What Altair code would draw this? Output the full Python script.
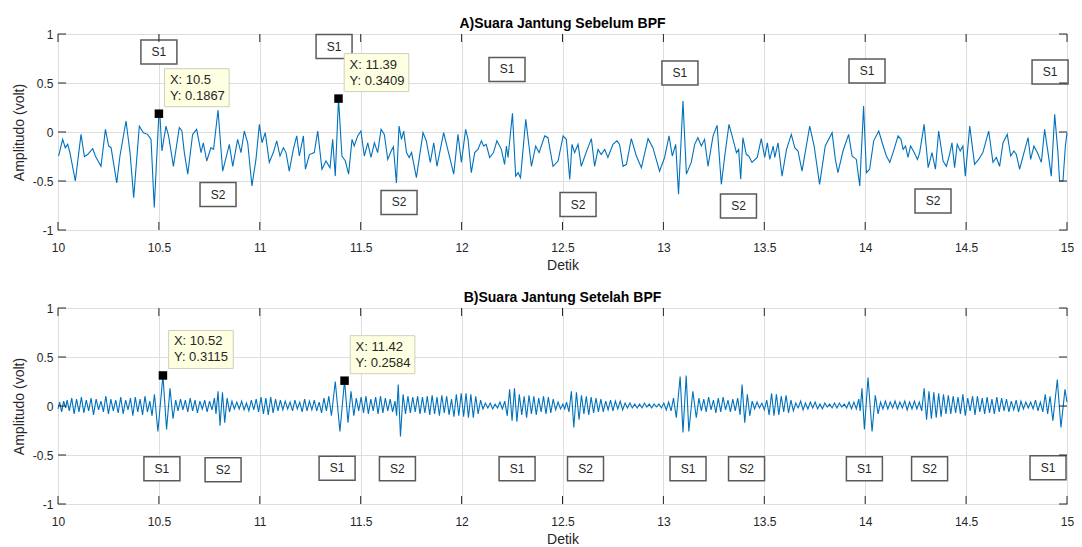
import altair as alt
import pandas as pd

# ---------------- data ----------------
top_t = [10.003,10.023,10.036,10.048,10.059,10.086,10.114,10.131,10.147,10.172,
         10.185,10.213,10.235,10.251,10.263,10.291,10.307,10.337,10.357,10.375,
         10.403,10.423,10.444,10.461,10.477,10.500,10.505,10.515,10.535,10.548,
         10.572,10.601,10.614,10.626,10.643,10.667,10.687,10.709,10.720,10.737,
         10.758,10.771,10.793,10.816,10.833,10.849,10.866,10.890,10.907,10.923,
         10.940,10.961,10.981,10.998,11.011,11.027,11.047,11.067,11.084,11.100,
         11.117,11.130,11.146,11.166,11.183,11.196,11.216,11.226,11.246,11.270,
         11.287,11.308,11.328,11.348,11.361,11.374,11.390,11.407,11.424,11.440,
         11.457,11.468,11.485,11.501,11.518,11.535,11.551,11.568,11.584,11.601,
         11.617,11.634,11.650,11.662,11.677,11.690,11.702,11.713,11.727,11.740,
         11.752,11.776,11.809,11.825,11.845,11.862,11.878,11.911,11.941,11.961,
         11.982,11.999,12.020,12.032,12.048,12.065,12.081,12.098,12.109,12.122,
         12.139,12.158,12.175,12.197,12.213,12.222,12.230,12.252,12.268,12.280,
         12.292,12.318,12.334,12.346,12.367,12.384,12.412,12.428,12.453,12.478,
         12.503,12.519,12.536,12.547,12.560,12.577,12.593,12.617,12.643,12.659,
         12.676,12.692,12.709,12.725,12.750,12.770,12.783,12.800,12.817,12.841,
         12.866,12.891,12.924,12.948,12.981,13.006,13.028,13.044,13.061,13.075,
         13.097,13.114,13.138,13.155,13.171,13.188,13.204,13.221,13.246,13.266,
         13.287,13.304,13.325,13.345,13.362,13.373,13.383,13.394,13.411,13.423,
         13.439,13.465,13.485,13.502,13.515,13.527,13.544,13.552,13.568,13.588,
         13.610,13.634,13.651,13.667,13.687,13.725,13.747,13.774,13.802,13.836,
         13.852,13.865,13.890,13.918,13.935,13.956,13.973,13.992,14.006,14.022,
         14.042,14.067,14.089,14.105,14.122,14.143,14.163,14.177,14.188,14.200,
         14.212,14.225,14.243,14.259,14.270,14.292,14.312,14.331,14.348,14.364,
         14.386,14.402,14.418,14.430,14.443,14.456,14.471,14.484,14.496,14.518,
         14.542,14.562,14.583,14.612,14.633,14.650,14.666,14.683,14.704,14.721,
         14.737,14.749,14.765,14.787,14.807,14.820,14.836,14.853,14.873,14.889,
         14.906,14.922,14.939,14.955,14.963,14.980,14.992,15.000]
top_v = [-0.245,-0.075,-0.16,-0.126,-0.21,-0.50,-0.024,-0.25,-0.23,-0.17,
         -0.245,-0.35,0.027,-0.143,-0.16,-0.52,-0.245,0.112,-0.21,-0.67,
         0.06,-0.007,-0.024,-0.075,-0.77,0.187,0.17,-0.194,0.06,-0.04,
         -0.35,0.044,0.01,-0.21,-0.43,-0.024,0.027,-0.21,-0.11,-0.296,
         -0.16,-0.177,0.224,-0.40,-0.26,-0.126,-0.35,-0.075,-0.21,0.01,
         -0.11,-0.55,-0.28,0.078,-0.11,-0.007,-0.31,-0.21,-0.09,-0.245,
         -0.16,-0.21,-0.40,-0.177,-0.04,-0.245,-0.04,-0.38,-0.23,-0.21,
         0.01,-0.38,-0.296,-0.364,-0.075,-0.45,0.341,-0.245,-0.296,-0.43,
         -0.075,-0.143,-0.04,0.01,-0.245,-0.11,-0.26,-0.11,-0.21,0.027,
         -0.024,-0.28,-0.20,-0.15,-0.52,0.06,-0.075,0.01,-0.21,-0.26,
         -0.21,-0.466,-0.007,-0.09,-0.31,-0.11,-0.35,-0.007,-0.26,-0.43,
         -0.024,-0.31,0.027,-0.075,-0.415,-0.21,-0.177,-0.09,-0.143,-0.126,
         -0.26,-0.21,-0.09,-0.177,-0.33,-0.143,-0.26,0.19,-0.45,-0.415,
         -0.466,0.13,-0.143,-0.35,-0.143,-0.21,-0.04,-0.058,-0.35,-0.296,
         -0.04,-0.075,-0.483,-0.126,-0.21,-0.126,-0.35,-0.21,-0.068,-0.35,
         -0.177,-0.23,-0.177,-0.26,-0.126,-0.09,-0.126,-0.35,-0.33,-0.068,
         -0.245,-0.364,-0.068,-0.16,-0.40,-0.26,-0.04,-0.245,-0.126,-0.636,
         0.316,-0.43,-0.31,-0.126,-0.058,-0.143,-0.075,-0.35,-0.04,0.068,
         -0.534,-0.245,0.078,-0.075,-0.21,-0.177,-0.483,-0.058,-0.23,-0.245,
         -0.31,-0.26,-0.068,-0.26,-0.11,-0.28,-0.143,-0.26,-0.11,-0.45,
         -0.177,-0.024,-0.16,-0.194,-0.40,0.06,-0.143,-0.534,-0.143,-0.007,
         -0.28,-0.415,-0.194,-0.024,-0.245,-0.28,-0.55,0.265,-0.415,-0.38,
         -0.09,0.01,-0.143,-0.245,-0.31,-0.177,-0.04,-0.075,-0.177,-0.143,
         -0.26,-0.143,-0.21,-0.28,-0.21,0.078,-0.364,-0.21,-0.38,0.01,
         -0.296,-0.35,-0.23,-0.11,-0.364,-0.126,-0.194,-0.143,-0.45,0.06,
         -0.33,-0.28,-0.21,0.01,-0.31,-0.26,-0.35,-0.11,-0.024,-0.245,
         -0.194,-0.23,-0.38,-0.21,-0.058,-0.28,-0.143,-0.21,-0.31,0.027,
         -0.21,-0.45,0.18,-0.21,-0.50,-0.50,-0.143,-0.007]

bot_t = [10.000,10.008,10.018,10.028,10.038,10.045,10.056,10.068,10.080,10.092,
         10.104,10.116,10.128,10.140,10.152,10.164,10.176,10.189,10.201,10.213,
         10.225,10.237,10.250,10.262,10.274,10.286,10.298,10.311,10.323,10.335,
         10.347,10.359,10.371,10.383,10.395,10.407,10.419,10.431,10.443,10.455,
         10.466,10.478,10.495,10.520,10.538,10.555,10.570,10.583,10.595,10.607,
         10.619,10.631,10.643,10.655,10.667,10.679,10.691,10.703,10.715,10.727,
         10.739,10.751,10.763,10.775,10.783,10.793,10.803,10.815,10.826,10.838,
         10.850,10.862,10.874,10.886,10.898,10.910,10.922,10.934,10.946,10.958,
         10.970,10.982,10.994,11.006,11.018,11.030,11.042,11.054,11.066,11.078,
         11.090,11.102,11.114,11.126,11.138,11.150,11.162,11.174,11.186,11.198,
         11.210,11.222,11.234,11.246,11.258,11.270,11.282,11.294,11.306,11.318,
         11.330,11.342,11.355,11.374,11.397,11.420,11.437,11.452,11.466,11.478,
         11.490,11.502,11.514,11.526,11.538,11.550,11.562,11.574,11.586,11.598,
         11.610,11.622,11.634,11.646,11.658,11.670,11.678,11.686,11.697,11.710,
         11.722,11.734,11.746,11.758,11.770,11.782,11.794,11.806,11.818,11.830,
         11.842,11.854,11.866,11.878,11.890,11.902,11.914,11.926,11.938,11.950,
         11.962,11.974,11.986,11.998,12.010,12.022,12.034,12.046,12.058,12.070,
         12.082,12.094,12.106,12.118,12.130,12.142,12.154,12.166,12.178,12.190,
         12.202,12.214,12.226,12.238,12.250,12.262,12.274,12.286,12.298,12.310,
         12.322,12.334,12.346,12.358,12.370,12.382,12.394,12.406,12.418,12.430,
         12.442,12.454,12.466,12.478,12.490,12.502,12.511,12.520,12.532,12.544,
         12.556,12.569,12.582,12.594,12.606,12.618,12.630,12.642,12.654,12.666,
         12.678,12.690,12.702,12.714,12.726,12.738,12.750,12.762,12.774,12.786,
         12.798,12.810,12.822,12.834,12.846,12.858,12.870,12.882,12.894,12.906,
         12.918,12.930,12.942,12.954,12.966,12.978,12.990,13.002,13.014,13.026,
         13.038,13.050,13.064,13.083,13.097,13.113,13.126,13.146,13.163,13.176,
         13.188,13.200,13.212,13.224,13.236,13.248,13.260,13.272,13.284,13.296,
         13.308,13.320,13.332,13.344,13.356,13.368,13.380,13.390,13.403,13.416,
         13.428,13.440,13.452,13.464,13.476,13.488,13.500,13.512,13.524,13.536,
         13.548,13.560,13.572,13.584,13.596,13.608,13.620,13.632,13.644,13.656,
         13.668,13.680,13.692,13.704,13.716,13.728,13.740,13.752,13.764,13.776,
         13.788,13.800,13.812,13.824,13.836,13.848,13.860,13.872,13.884,13.896,
         13.908,13.920,13.932,13.944,13.956,13.968,13.975,13.984,13.996,14.014,
         14.034,14.050,14.064,14.076,14.088,14.100,14.112,14.124,14.136,14.148,
         14.160,14.172,14.184,14.196,14.208,14.220,14.232,14.244,14.256,14.268,
         14.280,14.292,14.304,14.316,14.328,14.340,14.352,14.364,14.376,14.388,
         14.400,14.412,14.424,14.436,14.448,14.460,14.472,14.484,14.496,14.508,
         14.520,14.532,14.544,14.556,14.568,14.580,14.592,14.604,14.616,14.628,
         14.640,14.652,14.664,14.676,14.688,14.700,14.712,14.724,14.736,14.748,
         14.760,14.772,14.784,14.796,14.808,14.820,14.832,14.844,14.856,14.868,
         14.880,14.892,14.904,14.916,14.930,14.952,14.970,14.990,15.000]
bot_v = [-0.03,0.04,-0.06,0.05,-0.02,0.06,-0.05,0.08,-0.08,0.07,
         -0.06,0.09,-0.07,0.06,-0.05,0.08,-0.09,0.07,-0.04,0.05,
         -0.06,0.10,-0.08,0.07,-0.05,0.06,-0.07,0.09,-0.08,0.06,
         -0.04,0.08,-0.10,0.09,-0.06,0.07,-0.09,0.10,-0.06,0.05,
         -0.10,0.12,-0.26,0.31,-0.24,0.18,-0.13,0.06,-0.05,0.07,
         -0.04,0.06,-0.06,0.08,-0.05,0.06,-0.07,0.05,-0.03,0.06,
         -0.06,0.05,-0.04,0.08,-0.08,0.15,-0.20,0.14,-0.17,0.08,
         -0.06,0.05,-0.03,0.04,-0.03,0.05,-0.04,0.03,-0.05,0.06,
         -0.04,0.07,-0.06,0.09,-0.08,0.08,-0.09,0.09,-0.07,0.07,
         -0.05,0.06,-0.04,0.05,-0.03,0.04,-0.05,0.06,-0.03,0.04,
         -0.06,0.07,-0.05,0.05,-0.04,0.06,-0.05,0.04,-0.07,0.08,
         -0.05,0.10,-0.10,0.25,-0.26,0.26,-0.17,0.15,-0.10,0.08,
         -0.05,0.09,-0.07,0.10,-0.08,0.07,-0.05,0.09,-0.08,0.10,
         -0.07,0.08,-0.05,0.07,-0.06,0.05,-0.10,0.22,-0.31,0.12,
         -0.08,0.10,-0.07,0.09,-0.06,0.10,-0.08,0.09,-0.07,0.10,
         -0.09,0.11,-0.08,0.09,-0.10,0.11,-0.07,0.10,-0.09,0.07,
         -0.11,0.12,-0.10,0.13,-0.11,0.13,-0.12,0.12,-0.12,0.10,
         -0.08,0.06,-0.03,0.03,-0.02,0.03,-0.03,0.02,-0.02,0.04,
         -0.03,0.05,-0.10,0.17,-0.15,0.18,-0.16,0.12,-0.09,0.10,
         -0.12,0.11,-0.08,0.10,-0.09,0.08,-0.06,0.10,-0.08,0.09,
         -0.07,0.07,-0.04,0.04,-0.03,0.02,-0.03,0.04,-0.06,0.15,
         -0.22,0.14,-0.14,0.11,-0.08,0.10,-0.09,0.09,-0.07,0.08,
         -0.06,0.07,-0.06,0.05,-0.04,0.06,-0.05,0.05,-0.03,0.05,
         -0.04,0.03,-0.02,0.03,-0.02,0.02,-0.02,0.02,-0.02,0.03,
         -0.01,0.02,-0.02,0.02,-0.01,0.02,-0.02,0.03,-0.04,0.04,
         -0.05,0.08,-0.12,0.30,-0.27,0.31,-0.26,0.15,-0.12,0.08,
         -0.05,0.07,-0.06,0.09,-0.04,0.06,-0.07,0.08,-0.06,0.09,
         -0.04,0.06,-0.06,0.07,-0.05,0.08,-0.09,0.22,-0.17,0.12,
         -0.10,0.05,-0.03,0.04,-0.02,0.03,-0.04,0.06,-0.09,0.13,
         -0.10,0.12,-0.09,0.10,-0.06,0.11,-0.07,0.06,-0.05,0.03,
         -0.02,0.05,-0.04,0.03,-0.03,0.04,-0.02,0.04,-0.03,0.02,
         -0.03,0.03,-0.01,0.02,-0.02,0.03,-0.02,0.03,-0.01,0.02,
         -0.02,0.04,-0.03,0.04,-0.03,0.07,-0.05,0.18,-0.24,0.29,
         -0.26,0.11,-0.08,0.04,-0.03,0.05,-0.03,0.04,-0.02,0.05,
         -0.03,0.04,-0.02,0.05,-0.04,0.04,-0.03,0.05,-0.03,0.04,
         -0.05,0.18,-0.14,0.15,-0.13,0.14,-0.12,0.13,-0.11,0.12,
         -0.08,0.11,-0.08,0.10,-0.07,0.09,-0.08,0.12,-0.10,0.08,
         -0.05,0.10,-0.09,0.10,-0.06,0.08,-0.08,0.09,-0.07,0.07,
         -0.08,0.09,-0.06,0.08,-0.05,0.07,-0.06,0.05,-0.04,0.06,
         -0.06,0.05,-0.03,0.04,-0.02,0.04,-0.03,0.06,-0.05,0.04,
         -0.06,0.12,-0.08,0.10,-0.15,0.27,-0.22,0.17,0.04]

# S1 / S2 annotation boxes (centre time, centre amplitude, text)
top_lbl_t = [10.500, 11.368, 12.225, 13.082, 14.009, 14.916, 10.793, 11.690, 12.577, 13.372, 14.336]
top_lbl_v = [0.816, 0.872, 0.638, 0.602, 0.622, 0.612, -0.638, -0.719, -0.740, -0.755, -0.704]
top_lbl_s = ["S1", "S1", "S1", "S1", "S1", "S1", "S2", "S2", "S2", "S2", "S2"]

bot_lbl_t = [10.515, 10.818, 11.383, 11.682, 12.275, 12.614, 13.122, 13.412, 13.996, 14.319, 14.906]
bot_lbl_v = [-0.64, -0.65, -0.635, -0.64, -0.64, -0.64, -0.64, -0.64, -0.64, -0.64, -0.63]
bot_lbl_s = ["S1", "S2", "S1", "S2", "S1", "S2", "S1", "S2", "S1", "S2", "S1"]

# data tips
top_tip_x = [10.5, 11.39]
top_tip_y = [0.1867, 0.3409]
bot_tip_x = [10.52, 11.42]
bot_tip_y = [0.3115, 0.2584]

x_ticks = [10, 10.5, 11, 11.5, 12, 12.5, 13, 13.5, 14, 14.5, 15]
y_ticks = [-1, -0.5, 0, 0.5, 1]

# ---------------- styling ----------------
W, H = 1009, 196
FONT = "Liberation Sans"
LINE = "#0072BD"
INK = "#262626"
LBL_SHAPE = "M-1.5,-1L1.5,-1L1.5,1L-1.5,1Z"
TIP_SHAPE = "M-1.7,-1L1.7,-1L1.7,1L-1.7,1Z"


def panel(t, v, lt, lv, ls, tx, ty, title):
    xs = alt.Scale(domain=[10, 15], nice=False, zero=False)
    ys = alt.Scale(domain=[-1, 1], nice=False, zero=False)
    common = dict(grid=True, ticks=False, domain=False, labelExpr="toString(datum.value)",
                  labelFontSize=12, titleFontSize=14, labelFont=FONT, titleFont=FONT,
                  labelColor=INK, titleColor=INK, titleFontWeight="normal",
                  gridColor="#dedede", gridWidth=1, labelFlush=False)
    xax = alt.Axis(values=x_ticks, title="Detik", labelPadding=12, titlePadding=5, **common)
    yax = alt.Axis(values=y_ticks, title="Amplitudo (volt)", labelPadding=5, titlePadding=6, **common)

    X = lambda: alt.X("t:Q", scale=xs, axis=xax)
    Y = lambda: alt.Y("v:Q", scale=ys, axis=yax)

    line = alt.Chart(pd.DataFrame({"t": t, "v": v})).mark_line(
        color=LINE, strokeWidth=1.1).encode(x=X(), y=Y())

    xt = pd.DataFrame({"t": x_ticks})
    yt = pd.DataFrame({"v": y_ticks})
    tick_b = alt.Chart(xt).mark_rule(color=INK, strokeWidth=1).encode(
        x=X(), y=alt.value(H), y2=alt.value(H - 8))
    tick_t = alt.Chart(xt).mark_rule(color=INK, strokeWidth=1).encode(
        x=X(), y=alt.value(0), y2=alt.value(8))
    tick_l = alt.Chart(yt).mark_rule(color=INK, strokeWidth=1).encode(
        y=Y(), x=alt.value(0), x2=alt.value(8))
    tick_r = alt.Chart(yt).mark_rule(color=INK, strokeWidth=1).encode(
        y=Y(), x=alt.value(W - 8), x2=alt.value(W))

    lbl = pd.DataFrame({"t": lt, "v": lv, "s": ls})
    boxes = alt.Chart(lbl).mark_point(
        shape=LBL_SHAPE, size=576, filled=True, fill="white", stroke="#5a5a5a",
        strokeWidth=1.5, opacity=1).encode(x=X(), y=Y())
    texts = alt.Chart(lbl).mark_text(font=FONT, fontSize=12, color=INK).encode(
        x=X(), y=Y(), text="s:N")

    tip = pd.DataFrame({"t": tx, "v": ty,
                        "xl": [f"X: {a}" for a in tx],
                        "yl": [f"Y: {b}" for b in ty]})
    tip_box = alt.Chart(tip).mark_point(
        shape=TIP_SHAPE, size=1444, filled=True, fill="#ffffe1", stroke="#cfcfbd",
        strokeWidth=1, opacity=1, xOffset=38, yOffset=-26).encode(x=X(), y=Y())
    tip_x = alt.Chart(tip).mark_text(
        font=FONT, fontSize=13, color=INK, align="left", baseline="middle",
        dx=11, dy=-34).encode(x=X(), y=Y(), text="xl:N")
    tip_y = alt.Chart(tip).mark_text(
        font=FONT, fontSize=13, color=INK, align="left", baseline="middle",
        dx=11, dy=-18).encode(x=X(), y=Y(), text="yl:N")
    marker = alt.Chart(tip).mark_square(size=72, color="black", opacity=1).encode(x=X(), y=Y())

    return alt.layer(line, boxes, texts, tick_b, tick_t, tick_l, tick_r,
                     tip_box, tip_x, tip_y, marker).properties(
        width=W, height=H,
        title=alt.TitleParams(title, font=FONT, fontSize=14, fontWeight="bold",
                              color="#000000", offset=-3, anchor="middle", frame="group"))


top = panel(top_t, top_v, top_lbl_t, top_lbl_v, top_lbl_s, top_tip_x, top_tip_y,
            "A)Suara Jantung Sebelum BPF")
bot = panel(bot_t, bot_v, bot_lbl_t, bot_lbl_v, bot_lbl_s, bot_tip_x, bot_tip_y,
            "B)Suara Jantung Setelah BPF")

chart = alt.vconcat(top, bot, spacing=17).properties(
    padding={"left": 11, "top": 16, "right": 5, "bottom": 0},
    background="white",
).configure_view(stroke=INK, strokeWidth=1)

chart.save("out.html", embed_options={"renderer": "svg", "actions": False})
